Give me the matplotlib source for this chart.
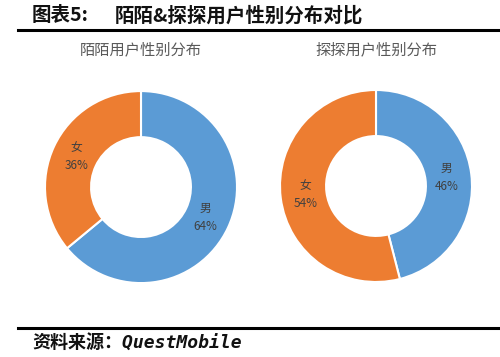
import matplotlib
matplotlib.use("Agg")
import matplotlib.pyplot as plt
from matplotlib.lines import Line2D

plt.rcParams['font.family'] = ['Noto Sans CJK SC', 'DejaVu Sans']

# data
title_tag = "图表5:"
title = "陌陌&探探用户性别分布对比"
source = "资料来源：QuestMobile"
chart_titles = ["陌陌用户性别分布", "探探用户性别分布"]
genders = ["男", "女"]
momo_share = [64, 36]
tantan_share = [46, 54]
colors = ["#5B9BD5", "#ED7D31"]

fig = plt.figure(figsize=(5.0, 3.57), dpi=100)

# header / footer
fig.text(0.064, 0.956, title_tag, fontsize=14, fontweight="bold", color="#111111",
         ha="left", va="center")
fig.text(0.23, 0.956, title, fontsize=14, fontweight="bold", color="#111111",
         ha="left", va="center")
fig.add_artist(Line2D([0.036, 1.0], [0.916, 0.916], color="black", lw=2.2))
fig.add_artist(Line2D([0.036, 1.0], [0.081, 0.081], color="black", lw=2.2))
fig.text(0.064, 0.038, source, fontsize=13, fontweight="bold", style="italic",
         family=["DejaVu Sans Mono", "Noto Sans CJK SC"], color="#111111",
         ha="left", va="center")

axes_rects = [[0.09, 0.207, 0.384, 0.538], [0.56, 0.21, 0.384, 0.538]]
subtitle_x = [0.282, 0.752]

for rect, sub, sx, vals in zip(axes_rects, chart_titles, subtitle_x,
                               [momo_share, tantan_share]):
    ax = fig.add_axes(rect)
    wedges, _, autotexts = ax.pie(
        vals, colors=colors, startangle=90, counterclock=False,
        autopct="%.0f%%", pctdistance=0.74,
        wedgeprops=dict(width=0.48, edgecolor="white", linewidth=1.5),
        textprops=dict(fontsize=8.5, color="#404040"))
    for t, name in zip(autotexts, genders):
        t.set_text(f"{name}\n{t.get_text()}")
        t.set_linespacing(1.5)
    ax.set_xlim(-1.0, 1.0)
    ax.set_ylim(-1.0, 1.0)
    ax.set_aspect("equal")
    fig.text(sx, 0.86, sub, fontsize=11, color="#595959", ha="center", va="center")

fig.savefig("out.png", dpi=100)
